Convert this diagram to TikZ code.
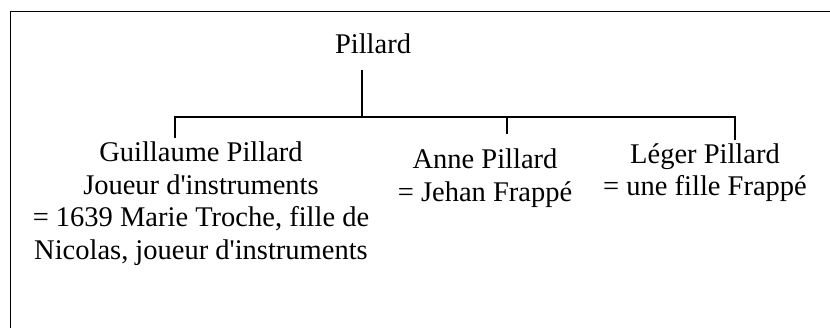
\documentclass[tikz,border=0pt]{standalone}
\usepackage{fontspec}
\setmainfont{Liberation Serif}[Ligatures=TeXOff]
\begin{document}
\begin{tikzpicture}[x=1pt,y=-1pt,
  person/.style={anchor=north,align=center,inner sep=0pt,font=\fontsize{28.5}{32.5}\selectfont},
  link/.style={line width=1.6pt}]
\useasboundingbox (0,0) rectangle (830,328);
\draw[line width=1.6pt] (10.5,328) -- (10.5,11.5) -- (830,11.5);
\node[person] (p) at (373,34) {Pillard};
\node[person] (g) at (201,142) {Guillaume Pillard\\Joueur d'instruments\\= 1639 Marie Troche, fille de\\Nicolas, joueur d'instruments};
\node[person] (a) at (485,149) {Anne Pillard\\= Jehan Frappé};
\node[person] (l) at (705,143) {Léger Pillard\\= une fille Frappé};
\coordinate (ptop) at (362,70);
\coordinate (bar) at (362,117);
\coordinate (gbar) at (175,117);
\coordinate (abar) at (507,117);
\coordinate (lbar) at (735,117);
\coordinate (gend) at (175,138);
\coordinate (aend) at (507,134);
\coordinate (lend) at (735,140);
\draw[link] (ptop) -- (bar);
\draw[link] (gend) -- (gbar) -- (lbar) -- (lend);
\draw[link] (abar) -- (aend);
\end{tikzpicture}
\end{document}
